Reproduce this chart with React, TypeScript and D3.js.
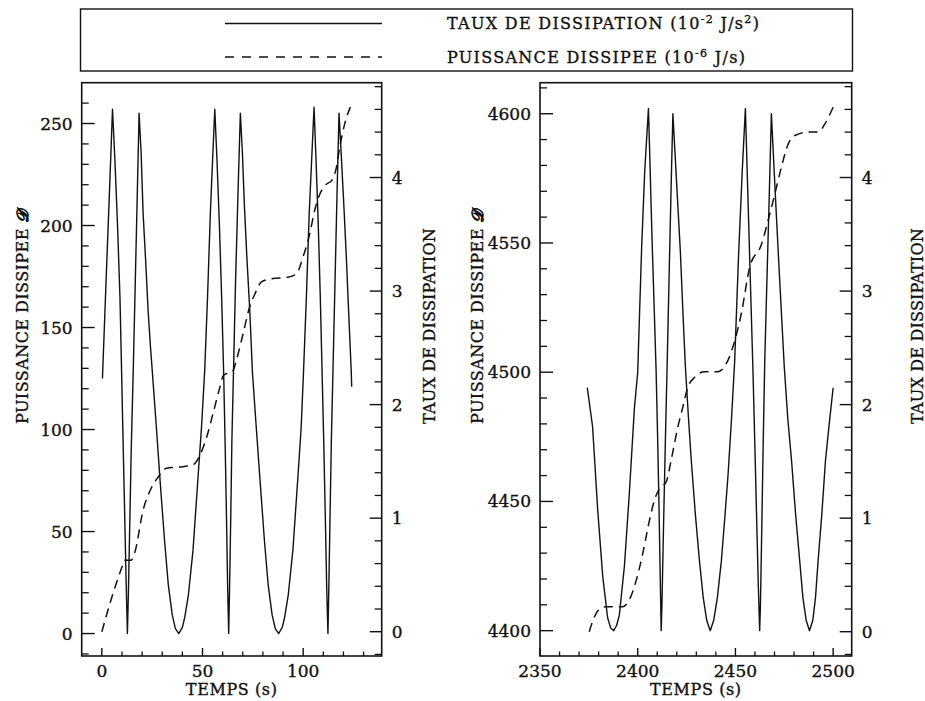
import React from 'react';
import * as d3 from 'd3';

const W = 925;
const H = 701;

// ---------- data ----------
// Panel A : t in s, puissance dissipée (left axis)
const panelASolid: [number, number][] = [
  [0.3, 125], [2, 170], [4, 222], [5.3, 257],
  [6.5, 232], [7.8, 200], [9, 165], [9.8, 129], [10.6, 92], [11.4, 56], [12.1, 24], [12.7, 0],
  [13.2, 20], [13.8, 50], [14.6, 90], [15.6, 129], [16.6, 172], [17.6, 215], [18.5, 255],
  [19.5, 236], [20.5, 206], [21.8, 182], [23, 158], [24.2, 140], [25.1, 128], [27.1, 101], [29, 74],
  [31.2, 45], [33, 24], [35, 9], [36.5, 2.5], [38.2, 0], [40, 3], [41.2, 8], [43, 19], [45.3, 41],
  [47.8, 77], [49.5, 101], [51.1, 129], [52.5, 165], [53.9, 206], [55, 232], [56.1, 257],
  [57.2, 232], [58.4, 200], [59.5, 165], [60.5, 128], [61.3, 90], [62, 52], [62.5, 22], [63, 0],
  [63.4, 20], [64, 55], [64.6, 95], [65.4, 129], [66.4, 172], [67.6, 215], [68.8, 255],
  [69.8, 236], [70.8, 210], [72, 185], [73.5, 158], [74.8, 128], [76.7, 101], [78.8, 72], [80.8, 45],
  [82.6, 24], [84.6, 9], [86.1, 2.5], [87.8, 0], [89.6, 3], [90.8, 8], [92.6, 19], [94.9, 41],
  [97.4, 77], [99, 101], [100.2, 129], [101.6, 165], [103, 206], [104.2, 232], [105.4, 258],
  [106.4, 232], [107.5, 200], [108.5, 165], [109.4, 128], [110.3, 90], [111.1, 52], [111.7, 22], [112.3, 0],
  [112.7, 20], [113.3, 55], [114, 95], [114.8, 129], [115.8, 172], [116.8, 215], [117.8, 255],
  [119, 233], [120.3, 208], [121.5, 183], [122.7, 155], [123.9, 128], [124.1, 121],
];

// Panel A : taux de dissipation (right axis)
const panelADashed: [number, number][] = [
  [0, 0], [5.6, 0.34], [10.6, 0.6], [11.2, 0.63], [14.5, 0.63], [16.4, 0.7], [20.5, 1.07],
  [24.7, 1.27], [27.9, 1.36], [32.1, 1.44], [38.7, 1.45], [45.3, 1.47], [48.6, 1.55], [52, 1.71],
  [55.2, 1.92], [58.6, 2.15], [60.5, 2.26], [64.9, 2.29], [66.8, 2.39], [70.1, 2.62], [73.4, 2.86],
  [75.9, 2.97], [79.3, 3.08], [85, 3.11], [91.7, 3.12], [96.6, 3.15], [99.9, 3.3], [103.2, 3.5],
  [105.7, 3.71], [108.2, 3.85], [111.5, 3.94], [114, 3.97], [116.5, 4.09], [118.1, 4.26],
  [120.6, 4.47], [123.4, 4.62],
];

// Panel B : t in s, puissance dissipée (left axis)
const panelBSolid: [number, number][] = [
  [2374.2, 4494], [2376.9, 4479], [2379.5, 4447], [2382.1, 4421], [2384.6, 4405], [2386.2, 4401],
  [2387.7, 4400], [2389.2, 4402], [2390.6, 4406], [2393.2, 4425], [2395.7, 4453], [2398.3, 4486],
  [2400, 4500], [2402, 4548], [2403.6, 4578], [2405.5, 4602],
  [2407.4, 4550], [2409.4, 4501], [2410.1, 4478], [2410.8, 4452], [2411.4, 4426], [2412, 4400],
  [2412.4, 4410], [2413.2, 4440], [2414.2, 4475], [2415.1, 4504], [2416.3, 4545], [2417.2, 4575], [2418, 4600],
  [2420, 4572], [2421.8, 4547], [2423.2, 4522], [2424.4, 4502], [2426, 4482], [2427.4, 4466],
  [2429.5, 4445], [2431.6, 4427], [2433.5, 4413], [2435.3, 4404], [2437.1, 4400], [2438.9, 4404],
  [2440.8, 4413], [2442.8, 4427], [2444.6, 4444], [2446.2, 4460], [2448, 4482], [2449.6, 4504],
  [2451.6, 4545], [2453.5, 4578], [2455.1, 4602],
  [2457, 4552], [2459, 4500], [2460, 4470], [2460.9, 4442], [2461.7, 4418], [2462.4, 4400],
  [2462.8, 4410], [2463.5, 4440], [2464.2, 4472], [2465, 4504], [2466.1, 4535], [2467.3, 4568], [2468.4, 4600],
  [2470.2, 4572], [2472, 4545], [2473.6, 4522], [2475, 4502], [2476.8, 4482], [2478.7, 4466],
  [2480.8, 4445], [2482.9, 4427], [2484.5, 4413], [2486.2, 4404], [2487.9, 4400], [2489.6, 4404],
  [2491, 4413], [2492.3, 4427], [2494.2, 4445], [2496.1, 4466], [2498, 4480], [2500, 4494],
];

// Panel B : taux de dissipation (right axis)
const panelBDashed: [number, number][] = [
  [2375.2, 0], [2377.8, 0.13], [2381.2, 0.21], [2383.8, 0.22], [2392.3, 0.22], [2395.7, 0.28],
  [2399.2, 0.45], [2402.6, 0.69], [2406, 0.98], [2408.6, 1.16], [2411.1, 1.26], [2414.6, 1.32],
  [2417.1, 1.51], [2420.5, 1.8], [2423.1, 1.98], [2425.6, 2.15], [2429.1, 2.24], [2434.2, 2.29],
  [2441, 2.29], [2445.3, 2.36], [2449.6, 2.56], [2453, 2.8], [2457.3, 3.21], [2463.3, 3.41],
  [2466.7, 3.62], [2470.1, 3.85], [2473.5, 4.09], [2476.9, 4.29], [2480.4, 4.37], [2487.2, 4.4],
  [2492.3, 4.4], [2495.7, 4.47], [2500, 4.62],
];

// tick labels
const panelAXTicks = [0, 50, 100];
const panelBXTicks = [2350, 2400, 2450, 2500];
const panelALeftTicks = [0, 50, 100, 150, 200, 250];
const panelBLeftTicks = [4400, 4450, 4500, 4550, 4600];
const rightTicks = [0, 1, 2, 3, 4];

const xTitle = 'TEMPS (s)';
const leftTitle = 'PUISSANCE DISSIPEE ';
const rightTitle = 'TAUX DE DISSIPATION';

const FONT = '"DejaVu Serif", "Liberation Serif", serif';
const INK = '#111';
const TXT = { fontFamily: FONT, fill: INK, stroke: INK, strokeWidth: 0.35 } as const;

type PanelProps = {
  x0: number; x1: number; y0: number; y1: number;
  xDomain: [number, number]; yDomain: [number, number]; wDomain: [number, number];
  xMajor: number[]; xMinor: number[]; yMajor: number[]; yMinor: number[];
  wMajor: number[]; wMinor: number[];
  solid: [number, number][]; dashed: [number, number][];
  leftTitleX: number; rightTitleX: number;
};

function Panel(p: PanelProps) {
  const x = d3.scaleLinear().domain(p.xDomain).range([p.x0, p.x1]);
  const y = d3.scaleLinear().domain(p.yDomain).range([p.y1, p.y0]);
  const w = d3.scaleLinear().domain(p.wDomain).range([p.y1, p.y0]);
  const solidLine = d3.line<[number, number]>().x(d => x(d[0])).y(d => y(d[1])).curve(d3.curveLinear);
  const dashLine = d3.line<[number, number]>().x(d => x(d[0])).y(d => w(d[1])).curve(d3.curveMonotoneX);
  const cx = (p.x0 + p.x1) / 2;
  return (
    <g>
      <rect x={p.x0} y={p.y0} width={p.x1 - p.x0} height={p.y1 - p.y0} fill="none" stroke={INK} strokeWidth={1.6} />
      {p.yMinor.map(v => (
        <line key={'ym' + v} x1={p.x0} x2={p.x0 + 7} y1={y(v)} y2={y(v)} stroke={INK} strokeWidth={1.3} />
      ))}
      {p.yMajor.map(v => (
        <g key={'yM' + v}>
          <line x1={p.x0} x2={p.x0 + 13} y1={y(v)} y2={y(v)} stroke={INK} strokeWidth={1.4} />
          <text x={p.x0 - 9} y={y(v) + 6} textAnchor="end" fontSize={17} {...TXT}>{v}</text>
        </g>
      ))}
      {p.wMinor.map(v => (
        <line key={'wm' + v} x1={p.x1} x2={p.x1 - 7} y1={w(v)} y2={w(v)} stroke={INK} strokeWidth={1.3} />
      ))}
      {p.wMajor.map(v => (
        <g key={'wM' + v}>
          <line x1={p.x1} x2={p.x1 - 12} y1={w(v)} y2={w(v)} stroke={INK} strokeWidth={1.4} />
          <text x={p.x1 + 10} y={w(v) + 6} textAnchor="start" fontSize={17} {...TXT}>{v}</text>
        </g>
      ))}
      {p.xMinor.map(v => (
        <line key={'xm' + v} x1={x(v)} x2={x(v)} y1={p.y1} y2={p.y1 - 4.5} stroke={INK} strokeWidth={1.3} />
      ))}
      {p.xMajor.map(v => (
        <g key={'xM' + v}>
          <line x1={x(v)} x2={x(v)} y1={p.y1} y2={p.y1 - 8} stroke={INK} strokeWidth={1.4} />
          <text x={x(v)} y={677} textAnchor="middle" fontSize={17} {...TXT}>{v}</text>
        </g>
      ))}
      <text x={cx} y={695} textAnchor="middle" fontSize={16} {...TXT} letterSpacing={0.6}>{xTitle}</text>
      <text transform={`translate(${p.leftTitleX},424) rotate(-90)`} textAnchor="start" fontSize={16} {...TXT} letterSpacing={0.45}>
        {leftTitle}<tspan fontStyle="italic" fontWeight="bold">{'\uD835\uDC9F'}</tspan>
      </text>
      <text transform={`translate(${p.rightTitleX},424) rotate(-90)`} textAnchor="start" fontSize={16} {...TXT} letterSpacing={0.2}>
        {rightTitle}
      </text>
      <path d={solidLine(p.solid) || ''} fill="none" stroke={INK} strokeWidth={1.4} strokeLinejoin="round" />
      <path d={dashLine(p.dashed) || ''} fill="none" stroke={INK} strokeWidth={1.5} strokeDasharray="9,6" />
    </g>
  );
}

export default function App() {
  const legendY = [23.5, 57];
  return (
    <svg width={W} height={H} viewBox={`0 0 ${W} ${H}`} style={{ position: 'absolute', left: 0, top: 0, background: '#fff' }}>
      <rect x={0} y={0} width={W} height={H} fill="#fff" />
      <rect x={80.5} y={9} width={772} height={62} fill="none" stroke={INK} strokeWidth={1.4} />
      <line x1={225} x2={382} y1={legendY[0]} y2={legendY[0]} stroke={INK} strokeWidth={1.4} />
      <line x1={225} x2={382} y1={legendY[1]} y2={legendY[1]} stroke={INK} strokeWidth={1.5} strokeDasharray="9,8" />
      <text x={447} y={29.3} fontSize={16} {...TXT} letterSpacing={1.3}>
        TAUX DE DISSIPATION (10<tspan dy={-6} fontSize={11}>-2</tspan><tspan dy={6}> J/s</tspan><tspan dy={-6} fontSize={11}>2</tspan><tspan dy={6}>)</tspan>
      </text>
      <text x={447} y={62.7} fontSize={16} {...TXT} letterSpacing={1.3}>
        PUISSANCE DISSIPEE (10<tspan dy={-6} fontSize={11}>-6</tspan><tspan dy={6}> J/s)</tspan>
      </text>

      <Panel
        x0={81.7} x1={381.7} y0={82.7} y1={656}
        xDomain={[-10, 139]} yDomain={[-11, 270]} wDomain={[-0.214, 4.835]}
        xMajor={panelAXTicks} xMinor={d3.range(10, 131, 10).filter(v => v % 50 !== 0)}
        yMajor={panelALeftTicks} yMinor={d3.range(-10, 261, 10).filter(v => v % 50 !== 0)}
        wMajor={rightTicks} wMinor={d3.range(-0.2, 4.81, 0.2).map(v => Math.round(v * 10) / 10).filter(v => Math.abs(v - Math.round(v)) > 0.01)}
        solid={panelASolid} dashed={panelADashed}
        leftTitleX={27.5} rightTitleX={435}
      />
      <Panel
        x0={540} x1={851.7} y0={82.7} y1={656}
        xDomain={[2350, 2509.5]} yDomain={[4390.2, 4612]} wDomain={[-0.214, 4.835]}
        xMajor={panelBXTicks} xMinor={d3.range(2360, 2501, 10).filter(v => v % 50 !== 0)}
        yMajor={panelBLeftTicks} yMinor={d3.range(4400, 4611, 10).filter(v => v % 50 !== 0)}
        wMajor={rightTicks} wMinor={d3.range(-0.2, 4.81, 0.2).map(v => Math.round(v * 10) / 10).filter(v => Math.abs(v - Math.round(v)) > 0.01)}
        solid={panelBSolid} dashed={panelBDashed}
        leftTitleX={482.5} rightTitleX={922.5}
      />
    </svg>
  );
}
